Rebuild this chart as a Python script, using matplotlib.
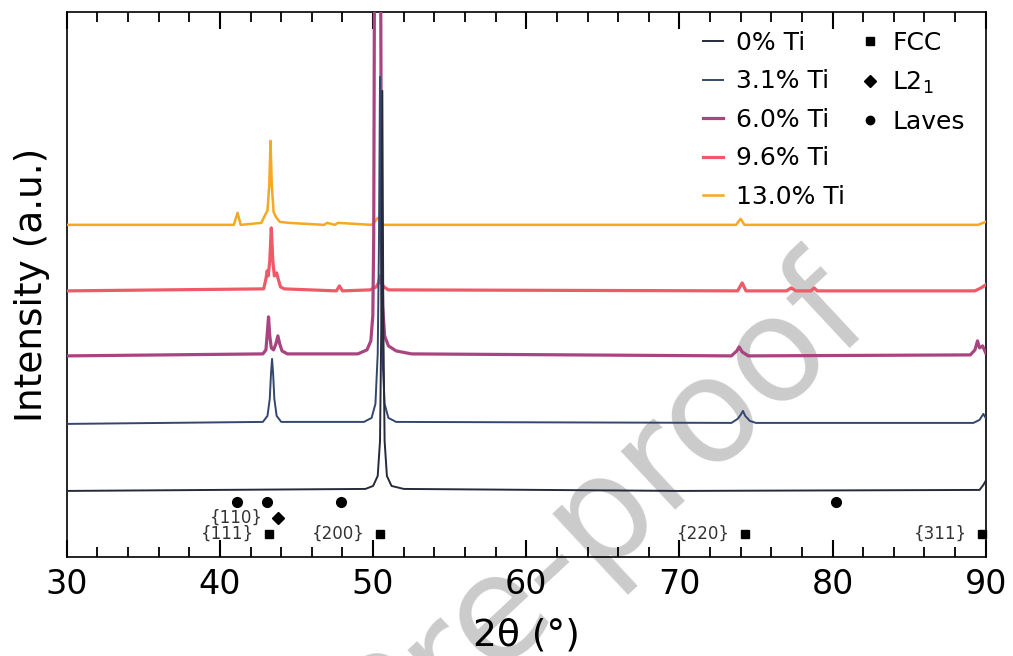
import matplotlib
matplotlib.use("Agg")
import numpy as np
import matplotlib.pyplot as plt
from matplotlib.lines import Line2D

# XRD patterns, intensity above each baseline (a.u.)
tt_0 = [30, 49.5, 50.0, 50.3, 50.45, 50.53, 50.6, 50.67, 50.75, 50.9, 51.2, 52, 70, 89.6, 89.85, 90]
int_0 = [0, 0.02, 0.05, 0.15, 0.5, 1.6, 4.0, 1.6, 0.5, 0.15, 0.05, 0.02, 0, 0.01, 0.06, 0.1]

tt_31 = [30, 42.8, 43.1, 43.25, 43.33, 43.4, 43.47, 43.55, 43.7, 44.0, 49.4, 49.9, 50.15, 50.3,
         50.38, 50.45, 50.52, 50.6, 50.75, 51.0, 51.5, 73.4, 73.8, 74.0, 74.15, 74.3, 74.6, 75.0,
         89.2, 89.6, 89.85, 90]
int_31 = [0, 0.02, 0.08, 0.25, 0.5, 0.65, 0.5, 0.25, 0.08, 0.02, 0.02, 0.06, 0.2, 0.7,
          1.8, 3.47, 1.8, 0.7, 0.2, 0.06, 0.02, 0.01, 0.05, 0.09, 0.13, 0.08, 0.03, 0.01,
          0.01, 0.04, 0.1, 0.06]

tt_60 = [30, 42.8, 43.0, 43.1, 43.17, 43.25, 43.35, 43.5, 43.65, 43.78, 43.9, 44.05, 44.4, 49.0,
         49.6, 49.85, 49.98, 50.04, 50.08, 50.3, 50.5, 50.55, 50.62, 50.75, 51.0, 51.5, 52.5,
         73.4, 73.75, 73.9, 74.1, 74.5, 89.0, 89.3, 89.47, 89.6, 89.8, 90]
int_60 = [0, 0.02, 0.06, 0.25, 0.39, 0.2, 0.08, 0.06, 0.12, 0.2, 0.12, 0.05, 0.02, 0.02,
          0.06, 0.15, 0.4, 1.2, 3.4, 8.0, 3.4, 1.2, 0.5, 0.2, 0.1, 0.05, 0.02,
          0.0, 0.05, 0.09, 0.04, 0.0, 0.01, 0.06, 0.15, 0.08, 0.1, 0.03]

tt_96 = [30, 42.85, 43.0, 43.08, 43.15, 43.25, 43.35, 43.45, 43.55, 43.7, 43.8, 43.95, 44.2,
         47.6, 47.8, 48.0, 49.8, 50.2, 50.35, 50.45, 50.55, 50.7, 51.0, 73.8, 74.1, 74.35,
         77.0, 77.3, 77.6, 78.6, 78.8, 79.0, 89.3, 89.7, 90]
int_96 = [0, 0.02, 0.12, 0.2, 0.15, 0.3, 0.63, 0.3, 0.15, 0.18, 0.12, 0.04, 0.02,
          0.0, 0.05, 0.0, 0.01, 0.04, 0.08, 0.15, 0.08, 0.04, 0.01, 0.0, 0.08, 0.0,
          0.0, 0.03, 0.0, 0.0, 0.03, 0.0, 0.0, 0.03, 0.06]

tt_130 = [30, 40.9, 41.15, 41.35, 42.7, 42.95, 43.1, 43.22, 43.3, 43.38, 43.5, 43.65, 43.9, 44.5,
          46.8, 47.0, 47.5, 47.7, 49.9, 50.15, 50.3, 50.45, 50.7, 73.7, 74.0, 74.25, 89.5, 90]
int_130 = [0, 0.0, 0.12, 0.0, 0.02, 0.1, 0.14, 0.4, 0.84, 0.4, 0.13, 0.08, 0.03, 0.02,
           0.0, 0.02, 0.0, 0.02, 0.0, 0.04, 0.07, 0.04, 0.0, 0.0, 0.06, 0.0, 0.0, 0.03]

labels = ["0% Ti", "3.1% Ti", "6.0% Ti", "9.6% Ti", "13.0% Ti"]
offsets = [0.66, 1.33, 2.01, 2.66, 3.32]
colors = ["#262a3b", "#33466e", "#a8447f", "#ef5a68", "#f5a820"]
widths = [1.4, 1.4, 2.3, 2.3, 1.8]

# phase reference positions (2theta)
fcc_pos = [43.2, 50.45, 74.3, 89.75]
fcc_hkl = ["{111}", "{200}", "{220}", "{311}"]
l21_pos = [43.8]
l21_hkl = ["{110}"]
laves_pos = [41.1, 43.05, 47.9, 80.2]

fcc_y, l21_y, laves_y = 0.23, 0.39, 0.55

fig = plt.figure(figsize=(10.13, 6.56), dpi=100)
ax = fig.add_axes([0.066, 0.151, 0.907, 0.831])
ax.set_facecolor("none")

# faint journal watermark behind the axes
fig.text(0.84, 0.545, "Journal Pre-proof", fontsize=105, color="#cbcbcb",
         rotation=43, rotation_mode="anchor", ha="right", va="center", zorder=-5)

series = [(tt_0, int_0), (tt_31, int_31), (tt_60, int_60), (tt_96, int_96), (tt_130, int_130)]
handles = []
for i in range(len(series) - 1, -1, -1):
    tt, inten = series[i]
    ln, = ax.plot(tt, np.array(inten) + offsets[i], color=colors[i], lw=widths[i],
                  label=labels[i], zorder=2 + (5 - i))
    handles.insert(0, ln)

ax.plot(fcc_pos, [fcc_y] * len(fcc_pos), "s", color="black", ms=6, ls="none", clip_on=False)
ax.plot(l21_pos, [l21_y] * len(l21_pos), "D", color="black", ms=6, ls="none")
ax.plot(laves_pos, [laves_y] * len(laves_pos), "o", color="black", ms=7, ls="none")

for p, t in zip(fcc_pos, fcc_hkl):
    ax.annotate(t, (p, fcc_y), xytext=(-11, 0), textcoords="offset points",
                ha="right", va="center", fontsize=12, color="#333333")
for p, t in zip(l21_pos, l21_hkl):
    ax.annotate(t, (p, l21_y), xytext=(-11, 0), textcoords="offset points",
                ha="right", va="center", fontsize=12, color="#333333")

ax.set_xlim(30, 90)
ax.set_ylim(0, 5.45)
ax.set_yticks([])
ax.set_xticks(np.arange(30, 91, 10))
ax.set_xticks(np.arange(30, 91, 2), minor=True)
ax.tick_params(axis="x", which="major", direction="in", length=12, width=1.5,
               top=True, labelsize=24, pad=8)
ax.tick_params(axis="x", which="minor", direction="in", length=7, width=1.3, top=True)
for s in ax.spines.values():
    s.set_linewidth(1.2)

ax.set_xlabel("2θ (°)", fontsize=27, labelpad=12)
ax.set_ylabel("Intensity (a.u.)", fontsize=27, labelpad=12)

leg1 = ax.legend(handles=handles, loc="upper left", bbox_to_anchor=(0.692, 0.965),
                 frameon=False, fontsize=18, handlelength=0.8, handletextpad=0.55,
                 labelspacing=0.58, borderpad=0, borderaxespad=0)
ax.add_artist(leg1)
mk = [Line2D([], [], marker="s", color="black", ls="none", ms=6),
      Line2D([], [], marker="D", color="black", ls="none", ms=6),
      Line2D([], [], marker="o", color="black", ls="none", ms=6)]
ax.legend(handles=mk, labels=["FCC", "L2$_1$", "Laves"], loc="upper left",
          bbox_to_anchor=(0.863, 0.965), frameon=False, fontsize=18, handlelength=0.8,
          handletextpad=0.5, labelspacing=0.58, borderpad=0, borderaxespad=0)

fig.savefig("out.png", dpi=100)
